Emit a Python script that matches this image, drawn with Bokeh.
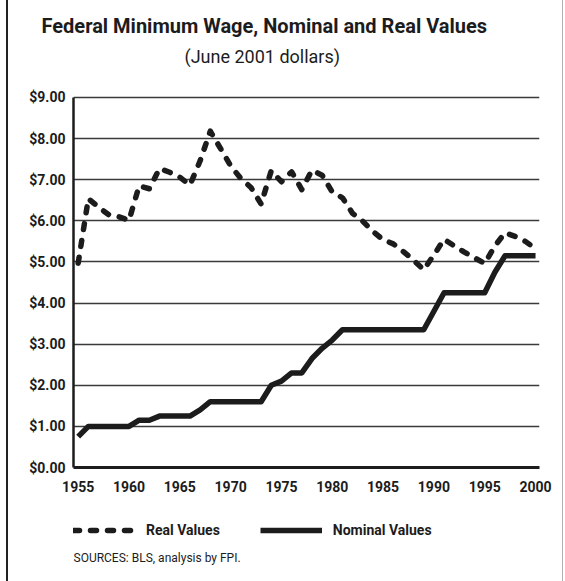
from bokeh.plotting import figure
from bokeh.layouts import column
from bokeh.models import (ColumnDataSource, FixedTicker, NumeralTickFormatter, Legend,
                          LegendItem, Title, Range1d, Label)
from bokeh.embed import file_html
from bokeh.resources import INLINE

# ---- data ----
years = list(range(1955, 2001))
nominal = [0.75, 1.00, 1.00, 1.00, 1.00, 1.00, 1.15, 1.15, 1.25, 1.25, 1.25, 1.25,
           1.40, 1.60, 1.60, 1.60, 1.60, 1.60, 1.60, 2.00, 2.10, 2.30, 2.30, 2.65,
           2.90, 3.10, 3.35, 3.35, 3.35, 3.35, 3.35, 3.35, 3.35, 3.35, 3.35, 3.80,
           4.25, 4.25, 4.25, 4.25, 4.25, 4.75, 5.15, 5.15, 5.15, 5.15]
real = [4.97, 6.54, 6.33, 6.15, 6.10, 6.01, 6.85, 6.78, 7.27, 7.18, 7.06, 6.87,
        7.46, 8.18, 7.76, 7.34, 7.03, 6.81, 6.41, 7.22, 6.95, 7.19, 6.76, 7.23,
        7.11, 6.70, 6.56, 6.18, 5.99, 5.74, 5.54, 5.44, 5.25, 5.04, 4.81, 5.17,
        5.55, 5.39, 5.24, 5.10, 4.96, 5.39, 5.71, 5.62, 5.50, 5.32]
x_ticks = [1955, 1960, 1965, 1970, 1975, 1980, 1985, 1990, 1995, 2000]
y_ticks = [0, 1, 2, 3, 4, 5, 6, 7, 8, 9]

title_text = "Federal Minimum Wage, Nominal and Real Values"
subtitle_text = "(June 2001 dollars)"
source_text = "SOURCES: BLS, analysis by FPI."
legend_labels = ["Real Values", "Nominal Values"]

FONT = "Roboto"
INK = "#1c1c1c"
RULES = {"background-image":
         "linear-gradient(to right, transparent 6px, #222 6px, #222 8px, "
         "transparent 8px, transparent 562px, #b0b0b0 562px, #b0b0b0 563px, "
         "transparent 563px)"}

# ---- layout (pixels) ----
W = 565
H1, H2 = 494, 87                      # chart part, legend/source part
TOP, BOTTOM, LEFT, RIGHT = 72, 26, 73, 26
Y0_PX, Y9_PX = 467.7, 97.0
ppu = (Y0_PX - Y9_PX) / (y_ticks[-1] - y_ticks[0])
y_top = y_ticks[-1] + (Y9_PX - TOP) / ppu

REAL_STYLE = dict(line_color=INK, line_width=5.5, line_dash="6 11",
                  line_cap="round", line_join="round")
NOM_STYLE = dict(line_color=INK, line_width=5.5, line_join="round")

src = ColumnDataSource(dict(year=years, nominal=nominal, real=real))

# ---------------- main chart ----------------
p = figure(width=W, height=H1, output_backend="svg", toolbar_location=None,
           title=None, x_range=Range1d(1954.54, 2000.39), y_range=Range1d(0, y_top),
           min_border_left=LEFT, min_border_right=RIGHT, min_border_top=TOP,
           min_border_bottom=BOTTOM, outline_line_color=None,
           border_fill_color=None)
p.styles = RULES

p.line("year", "real", source=src, **REAL_STYLE)
p.line("year", "nominal", source=src, **NOM_STYLE)

p.xaxis.ticker = FixedTicker(ticks=x_ticks)
p.yaxis.ticker = FixedTicker(ticks=y_ticks)
p.yaxis.bounds = (y_ticks[0], y_ticks[-1])
p.yaxis.formatter = NumeralTickFormatter(format="$0.00")
for ax in (p.xaxis[0], p.yaxis[0]):
    ax.major_tick_line_color = None
    ax.minor_tick_line_color = None
    ax.major_tick_out = 0
    ax.major_tick_in = 0
    ax.minor_tick_out = 0
    ax.axis_line_color = INK
    ax.major_label_text_font = FONT
    ax.major_label_text_font_style = "bold"
    ax.major_label_text_font_size = "14px"
    ax.major_label_text_color = INK
p.xaxis.axis_line_width = 3
p.yaxis.axis_line_width = 2.5
p.xaxis.major_label_standoff = 13
p.yaxis.major_label_standoff = 8

p.xgrid.grid_line_color = None
p.ygrid.ticker = FixedTicker(ticks=y_ticks)
p.ygrid.grid_line_color = "#3a3a3a"
p.ygrid.grid_line_width = 1.3

# titles (subtitle first: nearest the frame)
p.add_layout(Title(text=subtitle_text, align="left", offset=111, text_font=FONT,
                   text_font_size="18px", text_font_style="normal",
                   text_color=INK, standoff=11), "above")
p.add_layout(Title(text=title_text, align="left", offset=-32, text_font=FONT,
                   text_font_size="20px", text_font_style="bold",
                   text_color=INK, standoff=2), "above")

# ---------------- key and source strip ----------------
k = figure(width=W, height=H2, output_backend="svg", toolbar_location=None,
           x_range=Range1d(0, 1), y_range=Range1d(0, 1),
           x_axis_location=None, y_axis_location=None, min_border=0,
           outline_line_color=None, border_fill_color=None)
k.styles = RULES
k.grid.visible = False
key_src = ColumnDataSource(dict(x=[float("nan")], y=[float("nan")]))
k_real = k.line("x", "y", source=key_src, **REAL_STYLE)
k_nom = k.line("x", "y", source=key_src, **NOM_STYLE)

legend = Legend(items=[LegendItem(label=legend_labels[0], renderers=[k_real]),
                       LegendItem(label=legend_labels[1], renderers=[k_nom])],
                orientation="horizontal", location=(0, 41),
                glyph_width=62, glyph_height=20, label_standoff=11, spacing=40,
                padding=0, margin=0, border_line_color=None,
                background_fill_alpha=0, label_text_font=FONT,
                label_text_font_style="bold", label_text_font_size="14px",
                label_text_color=INK)
k.add_layout(legend, "center")
k.add_layout(Label(x=0, y=24, x_units="screen", y_units="screen", text=source_text,
                   text_font=FONT, text_font_size="12px", text_color=INK,
                   text_baseline="middle", text_align="left"))

layout = column(p, k, spacing=0)
open("out.html", "w").write(file_html(layout, INLINE))
